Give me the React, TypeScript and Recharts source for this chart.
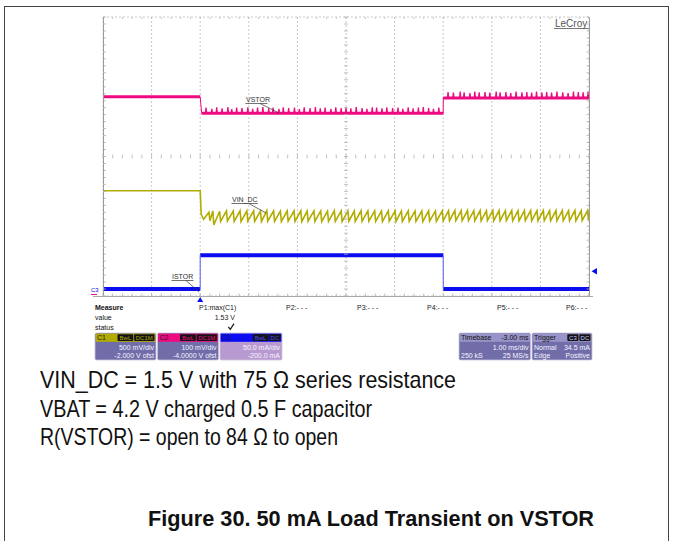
import React from 'react';
import { LineChart, Line, XAxis, YAxis, CartesianGrid, ReferenceLine } from 'recharts';

// ---------- layout constants ----------
const W = 674;
const H = 541;
const PLOT = { left: 103, top: 17, width: 486, height: 279 };
const FONT = '"Liberation Sans", Arial, Helvetica, sans-serif';

// ---------- axes ----------
const timeTicksMs = [-2, -1, 0, 1, 2, 3, 4, 5, 6, 7, 8];
const divTicks = [-4, -3, -2, -1, 0, 1, 2, 3, 4];
const markerDivs = [2.5, -2.5];

// ---------- colours ----------
const C1_COLOR = '#b2ab00';
const C2_COLOR = '#ee0a80';
const C3_COLOR = '#0c0cf0';

// ---------- C2: VSTOR (V) ----------
const vstorLevels = [4.171, 4.124, 4.168]; // before / during / after the load step
const vstorSpikeTimesLoaded = [
  0.12, 0.24, 0.34, 0.45, 0.57, 0.65, 0.75, 0.86, 0.98, 1.08, 1.18, 1.29, 1.41, 1.5, 1.62, 1.71,
  1.82, 1.94, 2.04, 2.14, 2.26, 2.37, 2.47, 2.57, 2.69, 2.79, 2.9, 3.0, 3.1, 3.21, 3.33, 3.43,
  3.54, 3.63, 3.74, 3.84, 3.96, 4.07, 4.17, 4.28, 4.38, 4.49, 4.59, 4.7, 4.8, 4.91,
];
const vstorSpikeTopsLoaded = [
  4.14, 4.137, 4.141, 4.138, 4.142, 4.136, 4.14, 4.139, 4.141, 4.137, 4.14, 4.142, 4.138, 4.14, 4.137, 4.141,
  4.139, 4.14, 4.136, 4.141, 4.139, 4.142, 4.138, 4.14, 4.137, 4.141, 4.139, 4.14, 4.138, 4.142, 4.139, 4.137,
  4.141, 4.14, 4.138, 4.141, 4.139, 4.14, 4.137, 4.141, 4.138, 4.14, 4.142, 4.139, 4.137, 4.14,
];
const vstorSpikeTimesAfter = [
  5.1, 5.21, 5.35, 5.43, 5.55, 5.65, 5.74, 5.86, 5.96, 6.09, 6.17, 6.29, 6.39, 6.5, 6.62, 6.72,
  6.82, 6.92, 7.03, 7.13, 7.23, 7.34, 7.46, 7.57, 7.68, 7.78, 7.88, 7.98,
];
const vstorSpikeTopsAfter = [
  4.185, 4.183, 4.186, 4.184, 4.182, 4.186, 4.184, 4.185, 4.183, 4.186, 4.184, 4.185, 4.182, 4.186, 4.184, 4.185,
  4.183, 4.186, 4.184, 4.185, 4.183, 4.186, 4.184, 4.182, 4.186, 4.185, 4.184, 4.186,
];

// ---------- C1: VIN_DC (V) ----------
const vinLevelBefore = 1.51;
const vinTroughTimes = [
  0.07, 0.2, 0.28, 0.42, 0.56, 0.7, 0.84, 0.98, 1.12, 1.26, 1.39, 1.53, 1.67, 1.81, 1.95, 2.09,
  2.22, 2.36, 2.5, 2.64, 2.78, 2.92, 3.06, 3.19, 3.33, 3.47, 3.61, 3.75, 3.89, 4.03, 4.16, 4.3,
  4.44, 4.58, 4.72, 4.86, 5.0, 5.13, 5.26, 5.39, 5.52, 5.65, 5.78, 5.91, 6.04, 6.17, 6.3, 6.43,
  6.56, 6.69, 6.82, 6.95, 7.08, 7.21, 7.34, 7.47, 7.6, 7.73, 7.86, 7.99,
];
const vinTroughs = [
  1.1, 1.08, 1.02, 1.07, 1.075, 1.07, 1.068, 1.072, 1.07, 1.066, 1.074, 1.07, 1.068, 1.072, 1.07, 1.066,
  1.074, 1.07, 1.068, 1.071, 1.07, 1.067, 1.073, 1.07, 1.069, 1.072, 1.07, 1.066, 1.073, 1.07, 1.068, 1.072,
  1.07, 1.067, 1.073, 1.07, 1.078, 1.08, 1.082, 1.079, 1.081, 1.08, 1.078, 1.082, 1.08, 1.079, 1.081, 1.08,
  1.078, 1.082, 1.08, 1.079, 1.081, 1.08, 1.078, 1.082, 1.08, 1.079, 1.081, 1.08,
];
const vinPeaks = [
  1.2, 1.22, 1.215, 1.22, 1.218, 1.222, 1.219, 1.221, 1.218, 1.222, 1.22, 1.217, 1.221, 1.219, 1.222, 1.218,
  1.22, 1.221, 1.217, 1.222, 1.219, 1.22, 1.218, 1.222, 1.219, 1.221, 1.218, 1.22, 1.222, 1.219, 1.221, 1.218,
  1.22, 1.222, 1.219, 1.221, 1.224, 1.226, 1.223, 1.227, 1.224, 1.226, 1.223, 1.225, 1.227, 1.224, 1.226, 1.223,
  1.225, 1.227, 1.224, 1.226, 1.223, 1.225, 1.227, 1.224, 1.226, 1.223, 1.225, 1.226,
];

// ---------- C3: ISTOR (mA) ----------
const istorLevels = [10, 58.5, 10]; // before / during / after
const loadStartMs = 0;
const loadEndMs = 5;

// ---------- build series ----------
const T0 = timeTicksMs[0];
const T1 = timeTicksMs[timeTicksMs.length - 1];

type Pt = { t: number; v: number | null };

// flat levels (thick band), broken at the steps
const levelBands = (levels: number[], settle: number): Pt[] => [
  { t: T0, v: levels[0] },
  { t: loadStartMs, v: levels[0] },
  { t: loadStartMs + 0.001, v: null },
  { t: loadStartMs + settle, v: levels[1] },
  { t: loadEndMs, v: levels[1] },
  { t: loadEndMs + 0.001, v: null },
  { t: loadEndMs + 0.002, v: levels[2] },
  { t: T1, v: levels[2] },
];
// thin transitions at the steps
const levelEdges = (levels: number[], settle: number): Pt[] => [
  { t: loadStartMs, v: levels[0] },
  { t: loadStartMs + settle, v: levels[1] },
  { t: loadStartMs + settle + 0.001, v: null },
  { t: loadEndMs, v: levels[1] },
  { t: loadEndMs + 0.002, v: levels[2] },
];

const spikes = (times: number[], tops: number[], base: number) =>
  times.flatMap((t, i) => [
    { t: t - 0.012, v: base },
    { t, v: tops[i] ?? base },
    { t: t + 0.012, v: base },
  ]);
const vstorBase = levelBands(vstorLevels, 0.03);
const vstorEdges = levelEdges(vstorLevels, 0.03);
const vstorSpikes: Pt[] = [
  { t: loadStartMs + 0.03, v: vstorLevels[1] },
  ...spikes(vstorSpikeTimesLoaded, vstorSpikeTopsLoaded, vstorLevels[1]),
  { t: loadEndMs, v: vstorLevels[1] },
  { t: loadEndMs + 0.002, v: null },
  { t: loadEndMs + 0.004, v: vstorLevels[2] },
  ...spikes(vstorSpikeTimesAfter, vstorSpikeTopsAfter, vstorLevels[2]),
];

const vinData: Pt[] = [
  { t: T0, v: vinLevelBefore },
  { t: loadStartMs, v: vinLevelBefore },
  { t: loadStartMs + 0.02, v: 1.17 },
  ...vinTroughTimes.flatMap((t, i) => {
    const next = i + 1 < vinTroughTimes.length ? vinTroughTimes[i + 1] : T1 + 0.02;
    return [
      { t, v: vinTroughs[i] },
      { t: Math.min(next - 0.02, T1), v: vinPeaks[i] },
    ];
  }),
];

const istorBands = levelBands(istorLevels, 0);
const istorEdges = levelEdges(istorLevels, 0);

// ---------- helpers for overlay ----------
const xDiv = PLOT.width / 10;
const yDiv = PLOT.height / 8;
const cx = PLOT.left + PLOT.width / 2;
const cy = PLOT.top + PLOT.height / 2;
const right = PLOT.left + PLOT.width;
const bottom = PLOT.top + PLOT.height;

type BadgeProps = {
  x: number;
  w: number;
  head: string;
  headFill: string;
  headInk: string;
  headRight?: string;
  boxes: string[];
  boxInk: string;
  bodyFill: string;
  rows: [string, string][];
};

const Badge = ({ x, w, head, headFill, headInk, headRight, boxes, boxInk, bodyFill, rows }: BadgeProps) => {
  const y = 333;
  const h = 27;
  let bx = x + w - 1.5;
  const boxEls: React.ReactNode[] = [];
  for (let i = boxes.length - 1; i >= 0; i--) {
    const bw = boxes[i].length * 4.6 + 2;
    bx -= bw;
    boxEls.push(
      <g key={i}>
        <rect x={bx} y={y + 1.3} width={bw} height={6.6} fill="#141414" rx={0.8} />
        <text x={bx + bw / 2} y={y + 6.9} fontSize={6} fill={boxInk} textAnchor="middle" fontFamily={FONT}>
          {boxes[i]}
        </text>
      </g>
    );
    bx -= 0.8;
  }
  return (
    <g>
      <rect x={x} y={y} width={w} height={h} fill={bodyFill} stroke="#c9c6dc" strokeWidth={0.8} rx={1.5} />
      <rect x={x + 0.6} y={y + 0.6} width={w - 1.2} height={8.2} fill={headFill} />
      <text x={x + 2} y={y + 7} fontSize={7} fill={headInk} fontFamily={FONT}>
        {head}
      </text>
      {headRight ? (
        <text x={x + w - 2} y={y + 7} fontSize={7} fill={headInk} textAnchor="end" fontFamily={FONT}>
          {headRight}
        </text>
      ) : null}
      {boxEls}
      {rows.map(([l, r], i) => (
        <g key={i}>
          {l ? (
            <text x={x + 2} y={y + 17 + i * 8} fontSize={7} fill="#f4f4ff" fontFamily={FONT}>
              {l}
            </text>
          ) : null}
          {r ? (
            <text x={x + w - 2} y={y + 17 + i * 8} fontSize={7} fill="#f4f4ff" textAnchor="end" fontFamily={FONT}>
              {r}
            </text>
          ) : null}
        </g>
      ))}
    </g>
  );
};

const Callout = ({ x, y, label, tx, ty }: { x: number; y: number; label: string; tx: number; ty: number }) => (
  <g>
    <text x={x} y={y} fontSize={7} fill="#333" fontFamily={FONT}>
      {label}
    </text>
    <line x1={x - 0.5} y1={y + 1.5} x2={x + label.length * 4.3} y2={y + 1.5} stroke="#333" strokeWidth={0.7} />
    <line x1={x + label.length * 2.8} y1={y + 1.5} x2={tx} y2={ty} stroke="#333" strokeWidth={0.7} />
  </g>
);

const measureHeads = ['P1:max(C1)', 'P2:- - -', 'P3:- - -', 'P4:- - -', 'P5:- - -', 'P6:- - -'];
const measureX = [199, 286, 357, 427, 497, 566];

const noteLines = [
  'VIN_DC = 1.5 V with 75 \u03a9 series resistance',
  'VBAT = 4.2 V charged 0.5 F capacitor',
  'R(VSTOR) = open to 84 \u03a9 to open',
];
const noteWidths = [416, 332, 298];
const caption = 'Figure 30. 50 mA Load Transient on VSTOR';

export default function App() {
  const minorX: number[] = [];
  for (let i = 0; i <= 50; i++) minorX.push(PLOT.left + (i * xDiv) / 5);
  const minorY: number[] = [];
  for (let i = 0; i <= 40; i++) minorY.push(PLOT.top + (i * yDiv) / 5);

  return (
    <div style={{ position: 'absolute', left: 0, top: 0, width: W, height: H, background: '#fff', overflow: 'hidden' }}>
      <div style={{ position: 'absolute', left: 0, top: 0 }}>
        <LineChart
          width={W}
          height={H}
          margin={{ top: PLOT.top, left: PLOT.left, right: W - PLOT.left - PLOT.width, bottom: H - PLOT.top - PLOT.height }}
        >
          <XAxis xAxisId="t" dataKey="t" type="number" domain={[T0, T1]} ticks={timeTicksMs} hide allowDataOverflow />
          <YAxis yAxisId="div" type="number" domain={[-4, 4]} ticks={divTicks} hide />
          <YAxis yAxisId="c1" type="number" domain={[0, 4]} hide allowDataOverflow />
          <YAxis yAxisId="c2" type="number" domain={[3.6, 4.4]} hide allowDataOverflow />
          <YAxis yAxisId="c3" type="number" domain={[0, 400]} hide allowDataOverflow />
          <CartesianGrid xAxisId="t" yAxisId="div" stroke="#c8c8c8" strokeDasharray="2 2" strokeWidth={1} />
          {markerDivs.map((d) => (
            <ReferenceLine key={d} xAxisId="t" yAxisId="div" y={d} stroke="#b0b0b0" strokeDasharray="1 8" />
          ))}
          <Line xAxisId="t" yAxisId="c2" data={vstorBase} dataKey="v" type="linear" stroke={C2_COLOR} strokeWidth={3} dot={false} isAnimationActive={false} />
          <Line xAxisId="t" yAxisId="c2" data={vstorEdges} dataKey="v" type="linear" stroke={C2_COLOR} strokeWidth={1} dot={false} isAnimationActive={false} />
          <Line xAxisId="t" yAxisId="c2" data={vstorSpikes} dataKey="v" type="linear" stroke={C2_COLOR} strokeWidth={1.3} dot={false} isAnimationActive={false} />
          <Line xAxisId="t" yAxisId="c1" data={vinData} dataKey="v" type="linear" stroke={C1_COLOR} strokeWidth={1.6} dot={false} isAnimationActive={false} />
          <Line xAxisId="t" yAxisId="c3" data={istorBands} dataKey="v" type="linear" stroke={C3_COLOR} strokeWidth={4} dot={false} isAnimationActive={false} />
          <Line xAxisId="t" yAxisId="c3" data={istorEdges} dataKey="v" type="linear" stroke="#5a5aff" strokeWidth={1} dot={false} isAnimationActive={false} />
        </LineChart>
      </div>
      <svg width={W} height={H} style={{ position: 'absolute', left: 0, top: 0, pointerEvents: 'none' }}>
        {/* page frame */}
        <line x1={4} y1={6.5} x2={669} y2={6.5} stroke="#444" strokeWidth={1} />
        <line x1={4.5} y1={6} x2={4.5} y2={H} stroke="#444" strokeWidth={1} />
        <line x1={668.5} y1={6} x2={668.5} y2={H} stroke="#444" strokeWidth={1} />

        {/* plot borders */}
        <line x1={PLOT.left + 0.5} y1={PLOT.top} x2={PLOT.left + 0.5} y2={bottom} stroke="#9a9a9a" />
        <line x1={right + 0.5} y1={PLOT.top} x2={right + 0.5} y2={bottom} stroke="#9a9a9a" />
        <line x1={93} y1={bottom + 0.5} x2={593} y2={bottom + 0.5} stroke="#a8a8a8" />

        {/* centre ticks */}
        {minorY.map((y, i) => (
          <line key={'cy' + i} x1={cx - 2} x2={cx + 2} y1={y} y2={y} stroke="#b4b4b4" strokeWidth={0.8} />
        ))}
        {minorX.map((x, i) => (
          <line key={'cx' + i} x1={x} x2={x} y1={cy - 2} y2={cy + 2} stroke="#b4b4b4" strokeWidth={0.8} />
        ))}
        {minorX.map((x, i) => (
          <line key={'bx' + i} x1={x} x2={x} y1={bottom - 2.5} y2={bottom} stroke="#b0b0b0" strokeWidth={0.8} />
        ))}
        {minorX.map((x, i) => (
          <line key={'tx' + i} x1={x} x2={x} y1={PLOT.top} y2={PLOT.top + 2} stroke="#bcbcbc" strokeWidth={0.8} />
        ))}
        {minorY.map((y, i) => (
          <g key={'sy' + i}>
            <line x1={PLOT.left} x2={PLOT.left + 3} y1={y} y2={y} stroke="#b0b0b0" strokeWidth={0.8} />
            <line x1={right - 2.5} x2={right} y1={y} y2={y} stroke="#b0b0b0" strokeWidth={0.8} />
          </g>
        ))}

        {/* LeCroy logo */}
        <text x={555} y={27} fontSize={10} fill="#555" fontFamily={FONT}>
          LeCroy
        </text>
        <line x1={554} y1={28.5} x2={589} y2={28.5} stroke="#555" strokeWidth={0.8} />

        {/* trace callouts */}
        <Callout x={246} y={102} label="VSTOR" tx={279} ty={113} />
        <Callout x={232} y={202} label="VIN_DC" tx={266} ty={213} />
        <Callout x={172} y={279} label="ISTOR" tx={199} ty={292} />

        {/* channel / trigger markers */}
        <text x={91} y={292} fontSize={6} fill={C3_COLOR} fontFamily={FONT}>
          C3
        </text>
        <line x1={91} y1={294.5} x2={97} y2={294.5} stroke={C2_COLOR} strokeWidth={1} />
        <polygon points={`${PLOT.left + 2 * xDiv - 3},302 ${PLOT.left + 2 * xDiv + 3},302 ${PLOT.left + 2 * xDiv},297`} fill={C3_COLOR} />
        <polygon points="597,268 597,274.5 591.5,271.2" fill={C3_COLOR} />

        {/* measure table */}
        <text x={95} y={310} fontSize={7} fontWeight="bold" fill="#111" fontFamily={FONT}>
          Measure
        </text>
        <text x={95} y={320} fontSize={7} fill="#111" fontFamily={FONT}>
          value
        </text>
        <text x={95} y={330} fontSize={7} fill="#111" fontFamily={FONT}>
          status
        </text>
        {measureHeads.map((m, i) => (
          <text key={m + i} x={measureX[i]} y={310} fontSize={7} fill="#222" fontFamily={FONT}>
            {m}
          </text>
        ))}
        <text x={235} y={320} fontSize={7} fill="#222" textAnchor="end" fontFamily={FONT}>
          1.53 V
        </text>
        <path d="M228.3,326.8 L230.3,329.3 L234,323.6" stroke="#222" strokeWidth={1.3} fill="none" />

        {/* channel badges */}
        <Badge x={95} w={61} head="C1" headFill={C1_COLOR} headInk="#222" boxes={['BwL', 'DC1M']} boxInk={C1_COLOR} bodyFill="#716da9" rows={[['', '500 mV/div'], ['', '-2.000 V ofst']]} />
        <Badge x={157.5} w={61} head="C2" headFill={C2_COLOR} headInk="#222" boxes={['BwL', 'DC1M']} boxInk={C2_COLOR} bodyFill="#716da9" rows={[['', '100 mV/div'], ['', '-4.0000 V ofst']]} />
        <Badge x={220} w={62} head="C3" headFill={C3_COLOR} headInk="#1a1a60" boxes={['BwL', 'DC']} boxInk="#4a4aff" bodyFill="#b99ad0" rows={[['', '50.0 mA/div'], ['', '-200.0 mA']]} />
        <Badge x={459} w={71.5} head="Timebase" headRight="-3.00 ms" headFill="#9893c8" headInk="#111" boxes={[]} boxInk="#fff" bodyFill="#716da9" rows={[['', '1.00 ms/div'], ['250 kS', '25 MS/s']]} />
        <Badge x={532} w={60} head="Trigger" headFill="#9893c8" headInk="#111" boxes={['C3', 'DC']} boxInk="#c8c8ff" bodyFill="#716da9" rows={[['Normal', '34.5 mA'], ['Edge', 'Positive']]} />

        {/* notes */}
        {noteLines.map((s, i) => (
          <text key={i} x={40} y={388 + i * 28.6} fontSize={24} fill="#111" fontFamily={FONT} textLength={noteWidths[i]} lengthAdjust="spacingAndGlyphs">
            {s}
          </text>
        ))}
        <text x={148} y={526} fontSize={22} fontWeight="bold" fill="#111" fontFamily={FONT} textLength={446} lengthAdjust="spacingAndGlyphs">
          {caption}
        </text>
      </svg>
    </div>
  );
}
